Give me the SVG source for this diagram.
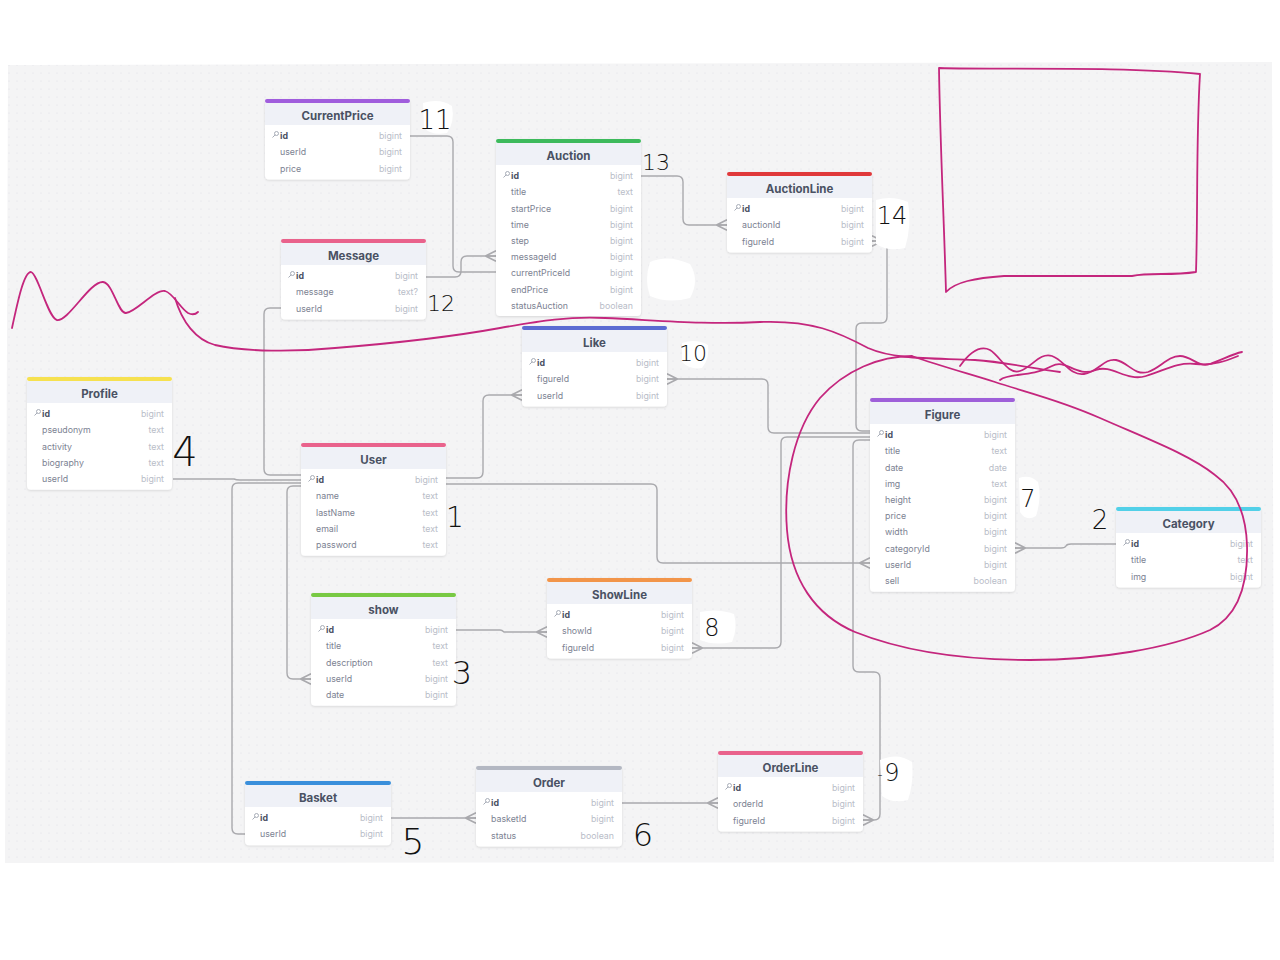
<svg xmlns="http://www.w3.org/2000/svg" width="1280" height="960" viewBox="0 0 1280 960">
<defs>
<pattern id="dots" width="8" height="8" patternUnits="userSpaceOnUse"><circle cx="1" cy="1" r="0.6" fill="#dedee2"/></pattern>
<filter id="sh" x="-10%" y="-10%" width="120%" height="130%"><feDropShadow dx="0" dy="1" stdDeviation="1.2" flood-color="#000" flood-opacity="0.12"/></filter>
<marker id="crow" markerUnits="userSpaceOnUse" markerWidth="14" markerHeight="14" viewBox="-11 -6 12 12" refX="0" refY="0" orient="auto"><path d="M-9,0 L0,-4.5 M-9,0 L0,0 M-9,0 L0,4.5" fill="none" stroke="#a9a9ad" stroke-width="1.4"/></marker>
<g id="key"><circle cx="2.5" cy="-2.5" r="2" fill="none" stroke="#a8adb8" stroke-width="1"/><path d="M1.2,-1.2 L-1.5,1.5" stroke="#a8adb8" stroke-width="1"/></g>
</defs>
<style>
.card{fill:#ffffff;filter:url(#sh)}
.hdr{fill:#eff1f7}
.title{font-family:Inter,"Liberation Sans",sans-serif;font-size:11.5px;font-weight:700;fill:#4a5163;text-anchor:middle}
.f{font-family:Inter,"Liberation Sans",sans-serif;font-size:8.8px;fill:#7c8292}
.pk{font-family:Inter,"Liberation Sans",sans-serif;font-size:8.8px;font-weight:700;fill:#4a5163}
.t{font-family:Inter,"Liberation Sans",sans-serif;font-size:8.8px;fill:#b9bdc8;text-anchor:end}
.c{fill:none;stroke:#a9a9ad;stroke-width:1.4}
.cm{marker-end:url(#crow)}
.ink{fill:none;stroke:#c4267d;stroke-width:1.8;stroke-linecap:round;stroke-linejoin:round}
.num{font-family:"DejaVu Sans","Liberation Sans",sans-serif;font-weight:200;fill:#111;text-anchor:middle}
.wh{fill:#ffffff}
</style>
<rect width="1280" height="960" fill="#ffffff"/>
<path d="M8,65 L1272,62 L1274,862 L5,863 Z" fill="#f4f4f5"/>
<path d="M8,65 L1272,62 L1274,862 L5,863 Z" fill="url(#dots)"/>

<g id="connectors">
<path class="c" d="M410,136 H447 Q453,136 453,142 V266 Q453,272 459,272 H496"/>
<path class="c cm" d="M426,277 H455 Q461,277 461,271 V262 Q461,256 467,256 H496"/>
<path class="c cm" d="M641,176 H677 Q683,176 683,182 V219 Q683,225 689,225 H727"/>
<path class="c cm" d="M870,431 H862 Q856,431 856,425 V329 Q856,323 862,323 H881 Q887,323 887,317 V247 Q887,241 881,241 H872"/>
<path class="c cm" d="M870,433 H774 Q768,433 768,427 V385 Q768,379 762,379 H667"/>
<path class="c cm" d="M870,437 H787 Q781,437 781,443 V642 Q781,648 775,648 H692"/>
<path class="c cm" d="M870,440 H859 Q853,440 853,446 V666 Q853,672 859,672 H874 Q880,672 880,678 V814 Q880,820 874,820 H863"/>
<path class="c cm" d="M446,478 H477 Q483,478 483,472 V401 Q483,395 489,395 H522"/>
<path class="c cm" d="M446,484 H651 Q657,484 657,490 V557 Q657,563 663,563 H870"/>
<path class="c" d="M301,480 H240 Q236,480 234,479 H173"/>
<path class="c" d="M301,475 H270 Q264,475 264,469 V314 Q264,308 270,308 H281"/>
<path class="c" d="M301,483 H238 Q232,483 232,489 V828 Q232,834 238,834 H245"/>
<path class="c cm" d="M301,486 H293 Q287,486 287,492 V673 Q287,679 293,679 H311"/>
<path class="c cm" d="M456,630 H500 Q502,630 504,632 H547"/>
<path class="c cm" d="M391,818 H476"/>
<path class="c cm" d="M622,803 H718"/>
<path class="c cm" d="M1116,544 H1071 Q1067,544 1066,546 Q1065,548 1061,548 H1015"/>
</g>

<g id="CurrentPrice" transform="translate(265,99)">
<rect class="card" width="145" height="80.4" rx="4"/><path class="hdr" d="M0,4 H145 V26 H0 Z"/><rect width="145" height="4" rx="2" fill="#a05ddd"/>
<text class="title" x="72.5" y="20.5">CurrentPrice</text>
<use href="#key" x="9" y="37"/><text class="pk" x="15" y="40.2">id</text><text class="t" x="137" y="40.2">bigint</text>
<text class="f" x="15" y="56.4">userId</text><text class="t" x="137" y="56.4">bigint</text>
<text class="f" x="15" y="72.6">price</text><text class="t" x="137" y="72.6">bigint</text>
</g>

<g id="Auction" transform="translate(496,139)">
<rect class="card" width="145" height="177" rx="4"/><path class="hdr" d="M0,4 H145 V26 H0 Z"/><rect width="145" height="4" rx="2" fill="#3dba5c"/>
<text class="title" x="72.5" y="20.5">Auction</text>
<use href="#key" x="9" y="37"/><text class="pk" x="15" y="40.2">id</text><text class="t" x="137" y="40.2">bigint</text>
<text class="f" x="15" y="56.4">title</text><text class="t" x="137" y="56.4">text</text>
<text class="f" x="15" y="72.6">startPrice</text><text class="t" x="137" y="72.6">bigint</text>
<text class="f" x="15" y="88.8">time</text><text class="t" x="137" y="88.8">bigint</text>
<text class="f" x="15" y="105">step</text><text class="t" x="137" y="105">bigint</text>
<text class="f" x="15" y="121.2">messageId</text><text class="t" x="137" y="121.2">bigint</text>
<text class="f" x="15" y="137.4">currentPriceId</text><text class="t" x="137" y="137.4">bigint</text>
<text class="f" x="15" y="153.6">endPrice</text><text class="t" x="137" y="153.6">bigint</text>
<text class="f" x="15" y="169.8">statusAuction</text><text class="t" x="137" y="169.8">boolean</text>
</g>

<g id="AuctionLine" transform="translate(727,172)">
<rect class="card" width="145" height="80.4" rx="4"/><path class="hdr" d="M0,4 H145 V26 H0 Z"/><rect width="145" height="4" rx="2" fill="#e0393b"/>
<text class="title" x="72.5" y="20.5">AuctionLine</text>
<use href="#key" x="9" y="37"/><text class="pk" x="15" y="40.2">id</text><text class="t" x="137" y="40.2">bigint</text>
<text class="f" x="15" y="56.4">auctionId</text><text class="t" x="137" y="56.4">bigint</text>
<text class="f" x="15" y="72.6">figureId</text><text class="t" x="137" y="72.6">bigint</text>
</g>

<g id="Message" transform="translate(281,239)">
<rect class="card" width="145" height="80.4" rx="4"/><path class="hdr" d="M0,4 H145 V26 H0 Z"/><rect width="145" height="4" rx="2" fill="#e9628c"/>
<text class="title" x="72.5" y="20.5">Message</text>
<use href="#key" x="9" y="37"/><text class="pk" x="15" y="40.2">id</text><text class="t" x="137" y="40.2">bigint</text>
<text class="f" x="15" y="56.4">message</text><text class="t" x="137" y="56.4">text?</text>
<text class="f" x="15" y="72.6">userId</text><text class="t" x="137" y="72.6">bigint</text>
</g>

<g id="Like" transform="translate(522,326)">
<rect class="card" width="145" height="80.4" rx="4"/><path class="hdr" d="M0,4 H145 V26 H0 Z"/><rect width="145" height="4" rx="2" fill="#5b6bd2"/>
<text class="title" x="72.5" y="20.5">Like</text>
<use href="#key" x="9" y="37"/><text class="pk" x="15" y="40.2">id</text><text class="t" x="137" y="40.2">bigint</text>
<text class="f" x="15" y="56.4">figureId</text><text class="t" x="137" y="56.4">bigint</text>
<text class="f" x="15" y="72.6">userId</text><text class="t" x="137" y="72.6">bigint</text>
</g>

<g id="Profile" transform="translate(27,377)">
<rect class="card" width="145" height="112.8" rx="4"/><path class="hdr" d="M0,4 H145 V26 H0 Z"/><rect width="145" height="4" rx="2" fill="#f6e150"/>
<text class="title" x="72.5" y="20.5">Profile</text>
<use href="#key" x="9" y="37"/><text class="pk" x="15" y="40.2">id</text><text class="t" x="137" y="40.2">bigint</text>
<text class="f" x="15" y="56.4">pseudonym</text><text class="t" x="137" y="56.4">text</text>
<text class="f" x="15" y="72.6">activity</text><text class="t" x="137" y="72.6">text</text>
<text class="f" x="15" y="88.8">biography</text><text class="t" x="137" y="88.8">text</text>
<text class="f" x="15" y="105">userId</text><text class="t" x="137" y="105">bigint</text>
</g>

<g id="User" transform="translate(301,443)">
<rect class="card" width="145" height="112.8" rx="4"/><path class="hdr" d="M0,4 H145 V26 H0 Z"/><rect width="145" height="4" rx="2" fill="#e9628c"/>
<text class="title" x="72.5" y="20.5">User</text>
<use href="#key" x="9" y="37"/><text class="pk" x="15" y="40.2">id</text><text class="t" x="137" y="40.2">bigint</text>
<text class="f" x="15" y="56.4">name</text><text class="t" x="137" y="56.4">text</text>
<text class="f" x="15" y="72.6">lastName</text><text class="t" x="137" y="72.6">text</text>
<text class="f" x="15" y="88.8">email</text><text class="t" x="137" y="88.8">text</text>
<text class="f" x="15" y="105">password</text><text class="t" x="137" y="105">text</text>
</g>

<g id="Figure" transform="translate(870,398)">
<rect class="card" width="145" height="193.8" rx="4"/><path class="hdr" d="M0,4 H145 V26 H0 Z"/><rect width="145" height="4" rx="2" fill="#9e5fd9"/>
<text class="title" x="72.5" y="20.5">Figure</text>
<use href="#key" x="9" y="37"/><text class="pk" x="15" y="40.2">id</text><text class="t" x="137" y="40.2">bigint</text>
<text class="f" x="15" y="56.4">title</text><text class="t" x="137" y="56.4">text</text>
<text class="f" x="15" y="72.6">date</text><text class="t" x="137" y="72.6">date</text>
<text class="f" x="15" y="88.8">img</text><text class="t" x="137" y="88.8">text</text>
<text class="f" x="15" y="105">height</text><text class="t" x="137" y="105">bigint</text>
<text class="f" x="15" y="121.2">price</text><text class="t" x="137" y="121.2">bigint</text>
<text class="f" x="15" y="137.4">width</text><text class="t" x="137" y="137.4">bigint</text>
<text class="f" x="15" y="153.6">categoryId</text><text class="t" x="137" y="153.6">bigint</text>
<text class="f" x="15" y="169.8">userId</text><text class="t" x="137" y="169.8">bigint</text>
<text class="f" x="15" y="186">sell</text><text class="t" x="137" y="186">boolean</text>
</g>

<g id="Category" transform="translate(1116,507)">
<rect class="card" width="145" height="80.4" rx="4"/><path class="hdr" d="M0,4 H145 V26 H0 Z"/><rect width="145" height="4" rx="2" fill="#52d0e8"/>
<text class="title" x="72.5" y="20.5">Category</text>
<use href="#key" x="9" y="37"/><text class="pk" x="15" y="40.2">id</text><text class="t" x="137" y="40.2">bigint</text>
<text class="f" x="15" y="56.4">title</text><text class="t" x="137" y="56.4">text</text>
<text class="f" x="15" y="72.6">img</text><text class="t" x="137" y="72.6">bigint</text>
</g>

<g id="show" transform="translate(311,593)">
<rect class="card" width="145" height="112.8" rx="4"/><path class="hdr" d="M0,4 H145 V26 H0 Z"/><rect width="145" height="4" rx="2" fill="#78c943"/>
<text class="title" x="72.5" y="20.5">show</text>
<use href="#key" x="9" y="37"/><text class="pk" x="15" y="40.2">id</text><text class="t" x="137" y="40.2">bigint</text>
<text class="f" x="15" y="56.4">title</text><text class="t" x="137" y="56.4">text</text>
<text class="f" x="15" y="72.6">description</text><text class="t" x="137" y="72.6">text</text>
<text class="f" x="15" y="88.8">userId</text><text class="t" x="137" y="88.8">bigint</text>
<text class="f" x="15" y="105">date</text><text class="t" x="137" y="105">bigint</text>
</g>

<g id="ShowLine" transform="translate(547,578)">
<rect class="card" width="145" height="80.4" rx="4"/><path class="hdr" d="M0,4 H145 V26 H0 Z"/><rect width="145" height="4" rx="2" fill="#f2954a"/>
<text class="title" x="72.5" y="20.5">ShowLine</text>
<use href="#key" x="9" y="37"/><text class="pk" x="15" y="40.2">id</text><text class="t" x="137" y="40.2">bigint</text>
<text class="f" x="15" y="56.4">showId</text><text class="t" x="137" y="56.4">bigint</text>
<text class="f" x="15" y="72.6">figureId</text><text class="t" x="137" y="72.6">bigint</text>
</g>

<g id="Basket" transform="translate(245,781)">
<rect class="card" width="146" height="64.2" rx="4"/><path class="hdr" d="M0,4 H146 V26 H0 Z"/><rect width="146" height="4" rx="2" fill="#3a8fdb"/>
<text class="title" x="73" y="20.5">Basket</text>
<use href="#key" x="9" y="37"/><text class="pk" x="15" y="40.2">id</text><text class="t" x="138" y="40.2">bigint</text>
<text class="f" x="15" y="56.4">userId</text><text class="t" x="138" y="56.4">bigint</text>
</g>

<g id="Order" transform="translate(476,766)">
<rect class="card" width="146" height="80.4" rx="4"/><path class="hdr" d="M0,4 H146 V26 H0 Z"/><rect width="146" height="4" rx="2" fill="#b3b7c2"/>
<text class="title" x="73" y="20.5">Order</text>
<use href="#key" x="9" y="37"/><text class="pk" x="15" y="40.2">id</text><text class="t" x="138" y="40.2">bigint</text>
<text class="f" x="15" y="56.4">basketId</text><text class="t" x="138" y="56.4">bigint</text>
<text class="f" x="15" y="72.6">status</text><text class="t" x="138" y="72.6">boolean</text>
</g>

<g id="OrderLine" transform="translate(718,751)">
<rect class="card" width="145" height="80.4" rx="4"/><path class="hdr" d="M0,4 H145 V26 H0 Z"/><rect width="145" height="4" rx="2" fill="#e9628c"/>
<text class="title" x="72.5" y="20.5">OrderLine</text>
<use href="#key" x="9" y="37"/><text class="pk" x="15" y="40.2">id</text><text class="t" x="137" y="40.2">bigint</text>
<text class="f" x="15" y="56.4">orderId</text><text class="t" x="137" y="56.4">bigint</text>
<text class="f" x="15" y="72.6">figureId</text><text class="t" x="137" y="72.6">bigint</text>
</g>

<g id="whiteout">
<path class="wh" d="M650,262 Q668,254 690,264 Q700,280 690,298 Q668,304 650,296 Q644,280 650,262 Z"/>
<path class="wh" d="M876,200 Q892,195 908,202 Q912,225 905,248 Q888,252 876,244 Z"/>
<path class="wh" d="M700,612 Q718,608 734,614 Q738,628 732,642 Q714,646 700,640 Z"/>
<path class="wh" d="M880,760 Q898,752 912,762 Q914,782 908,800 Q892,804 882,796 Z"/>
<path class="wh" d="M1019,478 Q1030,474 1038,482 Q1042,498 1036,516 Q1026,522 1020,512 Z"/>
<path class="wh" d="M682,343 Q696,338 708,345 Q710,358 702,368 Q690,370 682,362 Z"/>
<path class="wh" d="M423,103 Q440,98 452,106 Q455,122 447,133 Q432,136 424,128 Z"/>
</g>

<g id="handwritten-numbers">
<text class="num" x="435" y="129" font-size="26">11</text>
<text class="num" x="656" y="170" font-size="22">13</text>
<text class="num" x="892" y="224" font-size="24">14</text>
<text class="num" x="441" y="311" font-size="22">12</text>
<text class="num" x="693" y="361" font-size="22">10</text>
<text class="num" x="185" y="466" font-size="40">4</text>
<text class="num" x="455" y="527" font-size="28">1</text>
<text class="num" x="1028" y="507" font-size="24">7</text>
<text class="num" x="1100" y="529" font-size="26">2</text>
<text class="num" x="712" y="636" font-size="24">8</text>
<text class="num" x="462" y="684" font-size="32">3</text>
<text class="num" x="413" y="854" font-size="36">5</text>
<text class="num" x="643" y="846" font-size="32">6</text>
<text class="num" x="892" y="781" font-size="24">9</text>
<text class="num" x="880" y="779" font-size="14">-</text>
</g>

<g id="scribbles">
<path class="ink" d="M939,68 C1000,70 1120,66 1200,74 C1196,140 1198,210 1196,272 C1170,276 1150,272 1132,276 C1100,276 1060,276 1004,276 C975,278 955,282 946,292 C944,220 940,140 939,68"/>
<path class="ink" d="M12,328 C18,300 24,272 31,272 C38,274 48,318 57,320 C68,322 90,281 103,282 C113,283 118,314 126,313 C136,312 155,289 165,291 C173,293 180,308 188,313 C192,315 196,314 198,312"/>
<path class="ink" d="M175,298 C182,322 196,340 215,345 C245,352 295,352 335,348 C385,344 445,338 500,328 C540,321 570,316 605,318 C655,320 705,325 760,322 C812,320 838,332 868,348 C895,360 935,358 975,360 C1005,362 1030,368 1060,372"/>
<path class="ink" d="M960,366 C970,352 980,345 990,350 C1000,356 1008,375 1020,371 C1032,367 1040,352 1052,356 C1064,360 1070,376 1084,374 C1098,372 1104,358 1116,360 C1128,362 1134,376 1148,372 C1160,368 1168,356 1180,356 C1192,356 1198,368 1210,364 C1222,360 1232,354 1242,352"/>
<path class="ink" d="M1000,380 C1010,372 1030,378 1052,366 C1066,358 1076,378 1096,370 C1112,364 1126,382 1146,376 C1166,370 1176,362 1196,364 C1214,366 1228,360 1238,356"/>
<path class="ink" d="M912,356 C880,356 845,370 820,398 C795,428 783,480 787,530 C791,580 815,615 855,632 C900,650 960,660 1030,660 C1100,660 1170,648 1210,630 C1240,615 1248,580 1247,545 C1246,515 1236,490 1215,475 C1190,455 1150,440 1100,418 C1060,400 1025,392 995,382 C970,374 940,366 912,356"/>
</g>
</svg>
